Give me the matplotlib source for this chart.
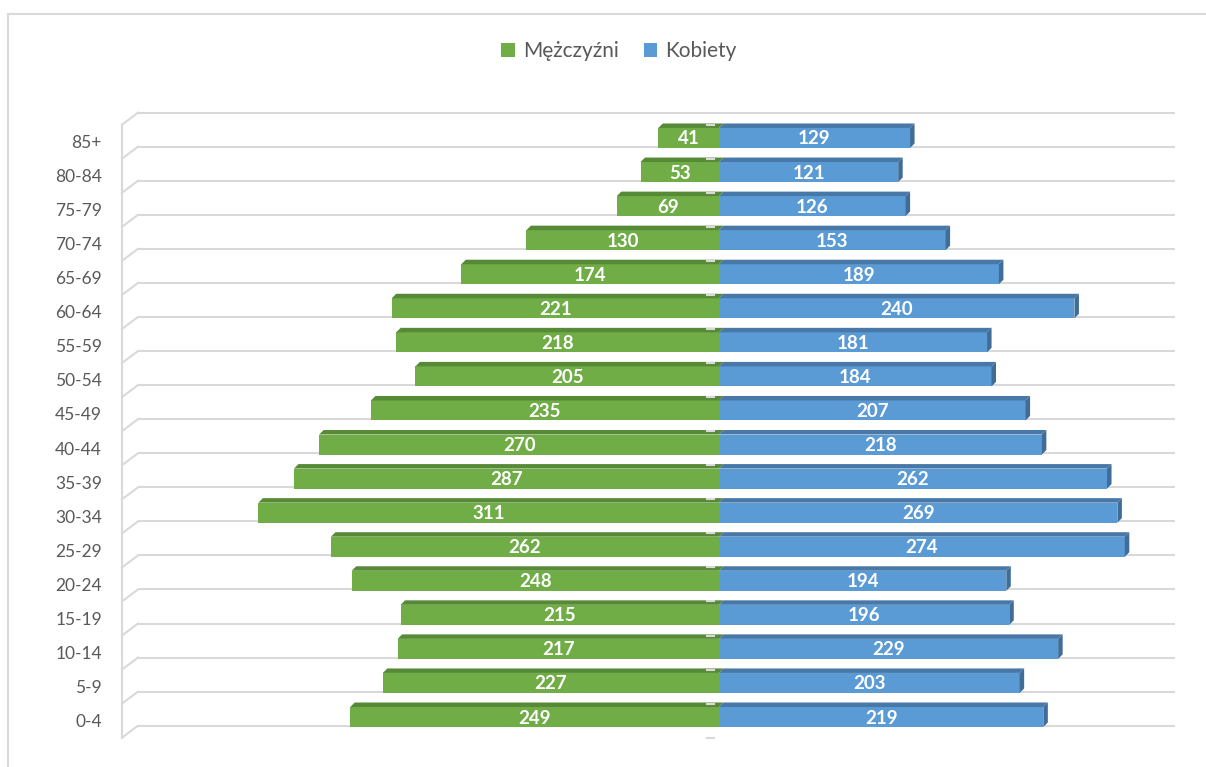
import matplotlib
matplotlib.use("Agg")
import matplotlib.pyplot as plt
from matplotlib.patches import Polygon, Patch
from matplotlib.lines import Line2D
import numpy as np

# ---- data ----
categories = ['0-4', '5-9', '10-14', '15-19', '20-24', '25-29', '30-34', '35-39',
              '40-44', '45-49', '50-54', '55-59', '60-64', '65-69', '70-74',
              '75-79', '80-84', '85+']
men = [249, 227, 217, 215, 248, 262, 311, 287, 270, 235, 205, 218, 221, 174, 130, 69, 53, 41]
women = [219, 203, 229, 196, 194, 274, 269, 262, 218, 207, 184, 181, 240, 189, 153, 126, 121, 129]
series_names = ['Mężczyźni', 'Kobiety']

# ---- style ----
GREEN = '#70AD47'
GREEN_TOP = '#578A37'
BLUE = '#5B9BD5'
BLUE_TOP = '#4878A8'
BLUE_SIDE = '#3F6D98'
GRID = '#D9D9D9'
TXT = '#595959'
FONT = ['Lato', 'DejaVu Sans']
plt.rcParams['font.family'] = FONT

W, H = 1206, 767
fig = plt.figure(figsize=(W / 100, H / 100), dpi=100)
ax = fig.add_axes([0, 0, 1, 1])
ax.axis('off')

# pixel layout mapping
CX = 719.0      # pixel x of zero
S = 1.481       # pixels per unit
Y0 = 717.0      # pixel y of first category center
P = 34.06       # pixel pitch between categories
ax.set_xlim((0 - CX) / S, (W - CX) / S)
ax.set_ylim((Y0 - H) / P, Y0 / P)

def xpx(p):
    return (p - CX) / S

n = len(categories)
y = np.arange(n)
bar_h = 20 / P
dx = 4.5 / S
dy = 4.5 / P

# gridlines (floor) with 3D left wall edges
g_off = 8.7 / P
grid_y = [k - g_off for k in range(n + 1)]
for g in grid_y:
    ax.plot([xpx(138), xpx(1175)], [g, g], color=GRID, lw=1.5, zorder=1, solid_capstyle='butt')
    ax.plot([xpx(122), xpx(138)], [g - 12 / P, g], color=GRID, lw=1.5, zorder=1)
    ax.plot([xpx(707), xpx(714)], [g - 12 / P, g - 12 / P], color=GRID, lw=1.5, zorder=4)
ax.plot([xpx(122), xpx(122)], [grid_y[0] - 12 / P, grid_y[-1] - 12 / P], color=GRID, lw=1.5, zorder=1)

# bars
neg_men = [-m for m in men]
ax.barh(y, neg_men, height=bar_h, color=GREEN, zorder=3, linewidth=0)
ax.barh(y, women, height=bar_h, color=BLUE, zorder=3, linewidth=0)

for i in range(n):
    top = y[i] + bar_h / 2
    bot = y[i] - bar_h / 2
    m = neg_men[i]
    w = women[i]
    ax.add_patch(Polygon([(m, top), (m + dx, top + dy), (dx, top + dy), (0, top)],
                         closed=True, facecolor=GREEN_TOP, edgecolor='none', zorder=3))
    ax.add_patch(Polygon([(0, top), (dx, top + dy), (w + dx, top + dy), (w, top)],
                         closed=True, facecolor=BLUE_TOP, edgecolor='none', zorder=3))
    ax.add_patch(Polygon([(w, bot), (w, top), (w + dx, top + dy), (w + dx, bot + dy)],
                         closed=True, facecolor=BLUE_SIDE, edgecolor='none', zorder=3))
    # data labels
    ax.text(m / 2, y[i] - 6.5 / P, str(men[i]), color='white', fontweight='bold',
            fontsize=13.5, ha='center', va='baseline', zorder=5)
    ax.text(w / 2, y[i] - 6.5 / P, str(w), color='white', fontweight='bold',
            fontsize=13.5, ha='center', va='baseline', zorder=5)
    # category labels
    ax.text(xpx(102), y[i] - 10 / P, categories[i], color=TXT, fontsize=12.5,
            ha='right', va='baseline')

# legend
handles = [Patch(facecolor=GREEN, edgecolor='none', label=series_names[0]),
           Patch(facecolor=BLUE, edgecolor='none', label=series_names[1])]
leg = fig.legend(handles=handles, ncol=2, loc='center', bbox_to_anchor=(619 / W, 1 - 51 / H),
                 frameon=False, fontsize=15, handlelength=0.65, handleheight=0.65,
                 handletextpad=0.4, columnspacing=1.2)
for t in leg.get_texts():
    t.set_color(TXT)

# chart border (top and left visible)
fig.add_artist(Line2D([8 / W, 1], [1 - 13.5 / H, 1 - 13.5 / H], transform=fig.transFigure,
                      color=GRID, lw=1.5))
fig.add_artist(Line2D([8 / W, 8 / W], [0, 1 - 13.5 / H], transform=fig.transFigure,
                      color=GRID, lw=1.5))

fig.savefig('out.png', dpi=100)
